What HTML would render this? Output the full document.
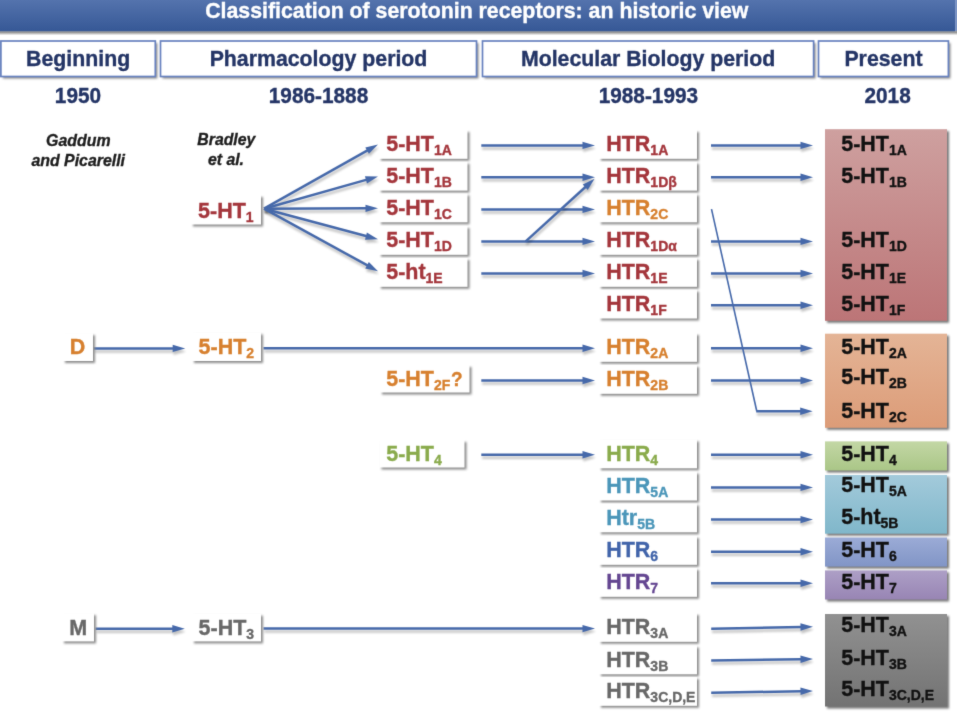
<!DOCTYPE html>
<html><head><meta charset="utf-8"><title>Classification of serotonin receptors</title>
<style>
html,body{margin:0;padding:0;background:#fff;overflow:hidden}
svg{display:block}
text{font-family:"Liberation Sans",sans-serif;font-weight:bold;stroke-width:0.35px}
</style></head><body>
<svg width="957" height="712" viewBox="0 0 957 712">
<defs>
<linearGradient id="hg" x1="0" y1="0" x2="0" y2="1"><stop offset="0" stop-color="#5473ad"/><stop offset="1" stop-color="#365896"/></linearGradient>
<linearGradient id="gpink" x1="0" y1="0" x2="0" y2="1"><stop offset="0" stop-color="#cea09f"/><stop offset="1" stop-color="#bc7577"/></linearGradient>
<linearGradient id="gorg" x1="0" y1="0" x2="0" y2="1"><stop offset="0" stop-color="#e4b496"/><stop offset="1" stop-color="#dc9c78"/></linearGradient>
<linearGradient id="ggrn" x1="0" y1="0" x2="0" y2="1"><stop offset="0" stop-color="#c3d7a5"/><stop offset="1" stop-color="#aac687"/></linearGradient>
<linearGradient id="gcyn" x1="0" y1="0" x2="0" y2="1"><stop offset="0" stop-color="#a3cadb"/><stop offset="1" stop-color="#80b7ca"/></linearGradient>
<linearGradient id="gper" x1="0" y1="0" x2="0" y2="1"><stop offset="0" stop-color="#9babd6"/><stop offset="1" stop-color="#8195c6"/></linearGradient>
<linearGradient id="gpur" x1="0" y1="0" x2="0" y2="1"><stop offset="0" stop-color="#ad9fc6"/><stop offset="1" stop-color="#9885b4"/></linearGradient>
<linearGradient id="ggry" x1="0" y1="0" x2="0" y2="1"><stop offset="0" stop-color="#919191"/><stop offset="1" stop-color="#737373"/></linearGradient>
<linearGradient id="hsh" x1="0" y1="0" x2="0" y2="1"><stop offset="0" stop-color="#6e6e6e"/><stop offset="1" stop-color="#ffffff"/></linearGradient>
<filter id="sb" x="-20%" y="-20%" width="140%" height="140%"><feGaussianBlur stdDeviation="0.8"/></filter>
<filter id="gb" x="0" y="0" width="957" height="712" filterUnits="userSpaceOnUse" color-interpolation-filters="sRGB"><feConvolveMatrix order="3" kernelMatrix="0.01134 0.08382 0.01134 0.08382 0.61935 0.08382 0.01134 0.08382 0.01134" edgeMode="duplicate" preserveAlpha="true"/></filter>
<filter id="lb" x="-20%" y="-50%" width="140%" height="200%"><feGaussianBlur stdDeviation="1"/></filter>
</defs>
<g filter="url(#gb)">
<rect x="0" y="0" width="957" height="712" fill="#fff"/>

<rect x="0" y="31.3" width="957" height="4" fill="url(#hsh)"/>
<rect x="0" y="0" width="955" height="31.3" fill="url(#hg)"/>
<rect x="955" y="0" width="2" height="31" fill="#7d95c5"/>
<text transform="translate(476.8 18.3) scale(1 1.0)" fill="#fff" stroke="#fff" text-anchor="middle" style="font-size:21.3px;">Classification of serotonin receptors: an historic view</text>
<rect x="2.9" y="43" width="154.4" height="35.5" fill="#8a8a8a" filter="url(#sb)"/>
<rect x="0.9" y="41" width="154.4" height="35.5" fill="#fff" stroke="#6882bf" stroke-width="1.7"/>
<text transform="translate(78.10000000000001 66) scale(1 1.04)" fill="#243566" stroke="#243566" text-anchor="middle" style="font-size:21.3px;">Beginning</text>
<rect x="162.5" y="43" width="316.0" height="35.5" fill="#8a8a8a" filter="url(#sb)"/>
<rect x="160.5" y="41" width="316.0" height="35.5" fill="#fff" stroke="#6882bf" stroke-width="1.7"/>
<text transform="translate(318.5 66) scale(1 1.04)" fill="#243566" stroke="#243566" text-anchor="middle" style="font-size:21.3px;">Pharmacology period</text>
<rect x="484.5" y="43" width="331.1" height="35.5" fill="#8a8a8a" filter="url(#sb)"/>
<rect x="482.5" y="41" width="331.1" height="35.5" fill="#fff" stroke="#6882bf" stroke-width="1.7"/>
<text transform="translate(648.05 66) scale(1 1.04)" fill="#243566" stroke="#243566" text-anchor="middle" style="font-size:21.3px;">Molecular Biology period</text>
<rect x="820.5" y="43" width="129.89999999999998" height="35.5" fill="#8a8a8a" filter="url(#sb)"/>
<rect x="818.5" y="41" width="129.89999999999998" height="35.5" fill="#fff" stroke="#6882bf" stroke-width="1.7"/>
<text transform="translate(883.45 66) scale(1 1.04)" fill="#243566" stroke="#243566" text-anchor="middle" style="font-size:21.3px;">Present</text>
<text transform="translate(78 103) scale(1 1.04)" fill="#243566" stroke="#243566" text-anchor="middle" style="font-size:20.8px;">1950</text>
<text transform="translate(318.5 103) scale(1 1.04)" fill="#243566" stroke="#243566" text-anchor="middle" style="font-size:20.8px;">1986-1888</text>
<text transform="translate(648.4 103) scale(1 1.04)" fill="#243566" stroke="#243566" text-anchor="middle" style="font-size:20.8px;">1988-1993</text>
<text transform="translate(887.6 103) scale(1 1.04)" fill="#243566" stroke="#243566" text-anchor="middle" style="font-size:20.8px;">2018</text>
<text transform="translate(78.3 145.5) scale(1 1.0)" fill="#1e1e1e" stroke="#1e1e1e" text-anchor="middle" style="font-size:15.9px;font-style:italic">Gaddum</text>
<text transform="translate(78.2 166) scale(1 1.0)" fill="#1e1e1e" stroke="#1e1e1e" text-anchor="middle" style="font-size:15.9px;font-style:italic">and Picarelli</text>
<text transform="translate(226.3 145.1) scale(1 1.0)" fill="#1e1e1e" stroke="#1e1e1e" text-anchor="middle" style="font-size:15.8px;font-style:italic">Bradley</text>
<text transform="translate(226 164.9) scale(1 1.0)" fill="#1e1e1e" stroke="#1e1e1e" text-anchor="middle" style="font-size:15.8px;font-style:italic">et al.</text>
<g transform="translate(0.8,3)" opacity="0.23" filter="url(#lb)"><line x1="264" y1="208.7" x2="367.98" y2="150.14" stroke="#000" stroke-width="2.5"/><polygon points="378.00,144.50 368.92,153.86 365.29,147.41" fill="#000"/></g>
<line x1="264" y1="208.7" x2="367.98" y2="150.14" stroke="#4669aa" stroke-width="2.5"/>
<polygon points="378.00,144.50 368.92,153.86 365.29,147.41" fill="#4669aa"/>
<g transform="translate(0.8,3)" opacity="0.23" filter="url(#lb)"><line x1="264" y1="208.7" x2="366.93" y2="179.63" stroke="#000" stroke-width="2.5"/><polygon points="378.00,176.50 366.98,183.46 364.96,176.34" fill="#000"/></g>
<line x1="264" y1="208.7" x2="366.93" y2="179.63" stroke="#4669aa" stroke-width="2.5"/>
<polygon points="378.00,176.50 366.98,183.46 364.96,176.34" fill="#4669aa"/>
<g transform="translate(0.8,3)" opacity="0.23" filter="url(#lb)"><line x1="264" y1="208.7" x2="366.50" y2="208.34" stroke="#000" stroke-width="2.5"/><polygon points="378.00,208.30 365.51,212.04 365.49,204.64" fill="#000"/></g>
<line x1="264" y1="208.7" x2="366.50" y2="208.34" stroke="#4669aa" stroke-width="2.5"/>
<polygon points="378.00,208.30 365.51,212.04 365.49,204.64" fill="#4669aa"/>
<g transform="translate(0.8,3)" opacity="0.23" filter="url(#lb)"><line x1="264" y1="208.7" x2="366.89" y2="236.32" stroke="#000" stroke-width="2.5"/><polygon points="378.00,239.30 364.97,239.63 366.89,232.49" fill="#000"/></g>
<line x1="264" y1="208.7" x2="366.89" y2="236.32" stroke="#4669aa" stroke-width="2.5"/>
<polygon points="378.00,239.30 364.97,239.63 366.89,232.49" fill="#4669aa"/>
<g transform="translate(0.8,3)" opacity="0.23" filter="url(#lb)"><line x1="264" y1="208.7" x2="367.92" y2="265.67" stroke="#000" stroke-width="2.5"/><polygon points="378.00,271.20 365.26,268.44 368.82,261.95" fill="#000"/></g>
<line x1="264" y1="208.7" x2="367.92" y2="265.67" stroke="#4669aa" stroke-width="2.5"/>
<polygon points="378.00,271.20 365.26,268.44 368.82,261.95" fill="#4669aa"/>
<g transform="translate(0.8,3)" opacity="0.23" filter="url(#lb)"><line x1="481.3" y1="145.4" x2="583.50" y2="145.40" stroke="#000" stroke-width="2.5"/><polygon points="595.00,145.40 582.50,149.10 582.50,141.70" fill="#000"/></g>
<line x1="481.3" y1="145.4" x2="583.50" y2="145.40" stroke="#4669aa" stroke-width="2.5"/>
<polygon points="595.00,145.40 582.50,149.10 582.50,141.70" fill="#4669aa"/>
<g transform="translate(0.8,3)" opacity="0.23" filter="url(#lb)"><line x1="481.3" y1="177.3" x2="583.50" y2="177.30" stroke="#000" stroke-width="2.5"/><polygon points="595.00,177.30 582.50,181.00 582.50,173.60" fill="#000"/></g>
<line x1="481.3" y1="177.3" x2="583.50" y2="177.30" stroke="#4669aa" stroke-width="2.5"/>
<polygon points="595.00,177.30 582.50,181.00 582.50,173.60" fill="#4669aa"/>
<g transform="translate(0.8,3)" opacity="0.23" filter="url(#lb)"><line x1="481.3" y1="209.4" x2="583.50" y2="209.40" stroke="#000" stroke-width="2.5"/><polygon points="595.00,209.40 582.50,213.10 582.50,205.70" fill="#000"/></g>
<line x1="481.3" y1="209.4" x2="583.50" y2="209.40" stroke="#4669aa" stroke-width="2.5"/>
<polygon points="595.00,209.40 582.50,213.10 582.50,205.70" fill="#4669aa"/>
<g transform="translate(0.8,3)" opacity="0.23" filter="url(#lb)"><line x1="481.3" y1="241.4" x2="583.50" y2="241.40" stroke="#000" stroke-width="2.5"/><polygon points="595.00,241.40 582.50,245.10 582.50,237.70" fill="#000"/></g>
<line x1="481.3" y1="241.4" x2="583.50" y2="241.40" stroke="#4669aa" stroke-width="2.5"/>
<polygon points="595.00,241.40 582.50,245.10 582.50,237.70" fill="#4669aa"/>
<g transform="translate(0.8,3)" opacity="0.23" filter="url(#lb)"><line x1="481.3" y1="273.5" x2="583.50" y2="273.50" stroke="#000" stroke-width="2.5"/><polygon points="595.00,273.50 582.50,277.20 582.50,269.80" fill="#000"/></g>
<line x1="481.3" y1="273.5" x2="583.50" y2="273.50" stroke="#4669aa" stroke-width="2.5"/>
<polygon points="595.00,273.50 582.50,277.20 582.50,269.80" fill="#4669aa"/>
<g transform="translate(0.8,3)" opacity="0.23" filter="url(#lb)"><line x1="525.7" y1="241.4" x2="585.99" y2="186.54" stroke="#000" stroke-width="2.5"/><polygon points="594.50,178.80 587.74,189.95 582.76,184.48" fill="#000"/></g>
<line x1="525.7" y1="241.4" x2="585.99" y2="186.54" stroke="#4669aa" stroke-width="2.5"/>
<polygon points="594.50,178.80 587.74,189.95 582.76,184.48" fill="#4669aa"/>
<g transform="translate(0.8,3)" opacity="0.23" filter="url(#lb)"><line x1="481.3" y1="380.5" x2="583.50" y2="380.50" stroke="#000" stroke-width="2.5"/><polygon points="595.00,380.50 582.50,384.20 582.50,376.80" fill="#000"/></g>
<line x1="481.3" y1="380.5" x2="583.50" y2="380.50" stroke="#4669aa" stroke-width="2.5"/>
<polygon points="595.00,380.50 582.50,384.20 582.50,376.80" fill="#4669aa"/>
<g transform="translate(0.8,3)" opacity="0.23" filter="url(#lb)"><line x1="481.3" y1="454.8" x2="583.50" y2="454.80" stroke="#000" stroke-width="2.5"/><polygon points="595.00,454.80 582.50,458.50 582.50,451.10" fill="#000"/></g>
<line x1="481.3" y1="454.8" x2="583.50" y2="454.80" stroke="#4669aa" stroke-width="2.5"/>
<polygon points="595.00,454.80 582.50,458.50 582.50,451.10" fill="#4669aa"/>
<g transform="translate(0.8,3)" opacity="0.23" filter="url(#lb)"><line x1="93.5" y1="348.4" x2="173.70" y2="348.40" stroke="#000" stroke-width="2.5"/><polygon points="185.20,348.40 172.70,352.10 172.70,344.70" fill="#000"/></g>
<line x1="93.5" y1="348.4" x2="173.70" y2="348.40" stroke="#4669aa" stroke-width="2.5"/>
<polygon points="185.20,348.40 172.70,352.10 172.70,344.70" fill="#4669aa"/>
<g transform="translate(0.8,3)" opacity="0.23" filter="url(#lb)"><line x1="263.5" y1="348.3" x2="583.50" y2="348.30" stroke="#000" stroke-width="2.5"/><polygon points="595.00,348.30 582.50,352.00 582.50,344.60" fill="#000"/></g>
<line x1="263.5" y1="348.3" x2="583.50" y2="348.30" stroke="#4669aa" stroke-width="2.5"/>
<polygon points="595.00,348.30 582.50,352.00 582.50,344.60" fill="#4669aa"/>
<g transform="translate(0.8,3)" opacity="0.23" filter="url(#lb)"><line x1="95.5" y1="628.7" x2="173.30" y2="628.70" stroke="#000" stroke-width="2.5"/><polygon points="184.80,628.70 172.30,632.40 172.30,625.00" fill="#000"/></g>
<line x1="95.5" y1="628.7" x2="173.30" y2="628.70" stroke="#4669aa" stroke-width="2.5"/>
<polygon points="184.80,628.70 172.30,632.40 172.30,625.00" fill="#4669aa"/>
<g transform="translate(0.8,3)" opacity="0.23" filter="url(#lb)"><line x1="263.5" y1="628.6" x2="583.50" y2="628.60" stroke="#000" stroke-width="2.5"/><polygon points="595.00,628.60 582.50,632.30 582.50,624.90" fill="#000"/></g>
<line x1="263.5" y1="628.6" x2="583.50" y2="628.60" stroke="#4669aa" stroke-width="2.5"/>
<polygon points="595.00,628.60 582.50,632.30 582.50,624.90" fill="#4669aa"/>
<g transform="translate(0.8,3)" opacity="0.23" filter="url(#lb)"><line x1="711" y1="145.4" x2="801.50" y2="145.40" stroke="#000" stroke-width="2.5"/><polygon points="813.00,145.40 800.50,149.10 800.50,141.70" fill="#000"/></g>
<line x1="711" y1="145.4" x2="801.50" y2="145.40" stroke="#4669aa" stroke-width="2.5"/>
<polygon points="813.00,145.40 800.50,149.10 800.50,141.70" fill="#4669aa"/>
<g transform="translate(0.8,3)" opacity="0.23" filter="url(#lb)"><line x1="711" y1="177.3" x2="801.50" y2="177.30" stroke="#000" stroke-width="2.5"/><polygon points="813.00,177.30 800.50,181.00 800.50,173.60" fill="#000"/></g>
<line x1="711" y1="177.3" x2="801.50" y2="177.30" stroke="#4669aa" stroke-width="2.5"/>
<polygon points="813.00,177.30 800.50,181.00 800.50,173.60" fill="#4669aa"/>
<g transform="translate(0.8,3)" opacity="0.23" filter="url(#lb)"><line x1="711" y1="241.4" x2="801.50" y2="241.40" stroke="#000" stroke-width="2.5"/><polygon points="813.00,241.40 800.50,245.10 800.50,237.70" fill="#000"/></g>
<line x1="711" y1="241.4" x2="801.50" y2="241.40" stroke="#4669aa" stroke-width="2.5"/>
<polygon points="813.00,241.40 800.50,245.10 800.50,237.70" fill="#4669aa"/>
<g transform="translate(0.8,3)" opacity="0.23" filter="url(#lb)"><line x1="711" y1="273.5" x2="801.50" y2="273.50" stroke="#000" stroke-width="2.5"/><polygon points="813.00,273.50 800.50,277.20 800.50,269.80" fill="#000"/></g>
<line x1="711" y1="273.5" x2="801.50" y2="273.50" stroke="#4669aa" stroke-width="2.5"/>
<polygon points="813.00,273.50 800.50,277.20 800.50,269.80" fill="#4669aa"/>
<g transform="translate(0.8,3)" opacity="0.23" filter="url(#lb)"><line x1="711" y1="305.3" x2="801.50" y2="305.30" stroke="#000" stroke-width="2.5"/><polygon points="813.00,305.30 800.50,309.00 800.50,301.60" fill="#000"/></g>
<line x1="711" y1="305.3" x2="801.50" y2="305.30" stroke="#4669aa" stroke-width="2.5"/>
<polygon points="813.00,305.30 800.50,309.00 800.50,301.60" fill="#4669aa"/>
<g transform="translate(0.8,3)" opacity="0.23" filter="url(#lb)"><line x1="711" y1="348.3" x2="801.50" y2="348.30" stroke="#000" stroke-width="2.5"/><polygon points="813.00,348.30 800.50,352.00 800.50,344.60" fill="#000"/></g>
<line x1="711" y1="348.3" x2="801.50" y2="348.30" stroke="#4669aa" stroke-width="2.5"/>
<polygon points="813.00,348.30 800.50,352.00 800.50,344.60" fill="#4669aa"/>
<g transform="translate(0.8,3)" opacity="0.23" filter="url(#lb)"><line x1="711" y1="380.5" x2="801.50" y2="380.50" stroke="#000" stroke-width="2.5"/><polygon points="813.00,380.50 800.50,384.20 800.50,376.80" fill="#000"/></g>
<line x1="711" y1="380.5" x2="801.50" y2="380.50" stroke="#4669aa" stroke-width="2.5"/>
<polygon points="813.00,380.50 800.50,384.20 800.50,376.80" fill="#4669aa"/>
<g transform="translate(0.8,3)" opacity="0.23" filter="url(#lb)"><line x1="711" y1="454.8" x2="801.50" y2="454.80" stroke="#000" stroke-width="2.5"/><polygon points="813.00,454.80 800.50,458.50 800.50,451.10" fill="#000"/></g>
<line x1="711" y1="454.8" x2="801.50" y2="454.80" stroke="#4669aa" stroke-width="2.5"/>
<polygon points="813.00,454.80 800.50,458.50 800.50,451.10" fill="#4669aa"/>
<g transform="translate(0.8,3)" opacity="0.23" filter="url(#lb)"><line x1="711" y1="487.4" x2="801.50" y2="487.40" stroke="#000" stroke-width="2.5"/><polygon points="813.00,487.40 800.50,491.10 800.50,483.70" fill="#000"/></g>
<line x1="711" y1="487.4" x2="801.50" y2="487.40" stroke="#4669aa" stroke-width="2.5"/>
<polygon points="813.00,487.40 800.50,491.10 800.50,483.70" fill="#4669aa"/>
<g transform="translate(0.8,3)" opacity="0.23" filter="url(#lb)"><line x1="711" y1="519.6" x2="801.50" y2="519.60" stroke="#000" stroke-width="2.5"/><polygon points="813.00,519.60 800.50,523.30 800.50,515.90" fill="#000"/></g>
<line x1="711" y1="519.6" x2="801.50" y2="519.60" stroke="#4669aa" stroke-width="2.5"/>
<polygon points="813.00,519.60 800.50,523.30 800.50,515.90" fill="#4669aa"/>
<g transform="translate(0.8,3)" opacity="0.23" filter="url(#lb)"><line x1="711" y1="551.7" x2="801.50" y2="551.70" stroke="#000" stroke-width="2.5"/><polygon points="813.00,551.70 800.50,555.40 800.50,548.00" fill="#000"/></g>
<line x1="711" y1="551.7" x2="801.50" y2="551.70" stroke="#4669aa" stroke-width="2.5"/>
<polygon points="813.00,551.70 800.50,555.40 800.50,548.00" fill="#4669aa"/>
<g transform="translate(0.8,3)" opacity="0.23" filter="url(#lb)"><line x1="711" y1="583.3" x2="801.50" y2="583.30" stroke="#000" stroke-width="2.5"/><polygon points="813.00,583.30 800.50,587.00 800.50,579.60" fill="#000"/></g>
<line x1="711" y1="583.3" x2="801.50" y2="583.30" stroke="#4669aa" stroke-width="2.5"/>
<polygon points="813.00,583.30 800.50,587.00 800.50,579.60" fill="#4669aa"/>
<g transform="translate(0.8,3)" opacity="0.23" filter="url(#lb)"><line x1="711.2" y1="628.7" x2="801.50" y2="627.01" stroke="#000" stroke-width="2.5"/><polygon points="813.00,626.80 800.57,630.73 800.43,623.33" fill="#000"/></g>
<line x1="711.2" y1="628.7" x2="801.50" y2="627.01" stroke="#4669aa" stroke-width="2.5"/>
<polygon points="813.00,626.80 800.57,630.73 800.43,623.33" fill="#4669aa"/>
<g transform="translate(0.8,3)" opacity="0.23" filter="url(#lb)"><line x1="711.2" y1="660.5" x2="801.50" y2="659.26" stroke="#000" stroke-width="2.5"/><polygon points="813.00,659.10 800.55,662.97 800.45,655.57" fill="#000"/></g>
<line x1="711.2" y1="660.5" x2="801.50" y2="659.26" stroke="#4669aa" stroke-width="2.5"/>
<polygon points="813.00,659.10 800.55,662.97 800.45,655.57" fill="#4669aa"/>
<g transform="translate(0.8,3)" opacity="0.23" filter="url(#lb)"><line x1="711.2" y1="692.8" x2="801.50" y2="691.20" stroke="#000" stroke-width="2.5"/><polygon points="813.00,691.00 800.57,694.92 800.44,687.52" fill="#000"/></g>
<line x1="711.2" y1="692.8" x2="801.50" y2="691.20" stroke="#4669aa" stroke-width="2.5"/>
<polygon points="813.00,691.00 800.57,694.92 800.44,687.52" fill="#4669aa"/>
<line x1="711.5" y1="209.1" x2="756.8" y2="411.2" stroke="#4669aa" stroke-width="1.6"/>
<g transform="translate(0.8,3)" opacity="0.23" filter="url(#lb)"><line x1="756.2" y1="411.2" x2="801.20" y2="411.20" stroke="#000" stroke-width="2.5"/><polygon points="812.70,411.20 800.20,414.90 800.20,407.50" fill="#000"/></g>
<line x1="756.2" y1="411.2" x2="801.20" y2="411.20" stroke="#4669aa" stroke-width="2.5"/>
<polygon points="812.70,411.20 800.20,414.90 800.20,407.50" fill="#4669aa"/>
<rect x="65" y="335.2" width="30" height="27.80000000000001" fill="#8c8c8c" filter="url(#sb)"/>
<rect x="63" y="333.2" width="30" height="27.80000000000001" fill="#fff"/>
<text transform="translate(69.7 354) scale(1 1.04)" fill="#d7802f" stroke="#d7802f" style="font-size:21.5px">D</text>
<rect x="64" y="615.2" width="32" height="28.199999999999932" fill="#8c8c8c" filter="url(#sb)"/>
<rect x="62" y="613.2" width="32" height="28.199999999999932" fill="#fff"/>
<text transform="translate(69.2 634.5) scale(1 1.04)" fill="#686868" stroke="#686868" style="font-size:21.5px">M</text>
<rect x="193" y="197" width="70" height="29.5" fill="#8c8c8c" filter="url(#sb)"/>
<rect x="191" y="195" width="70" height="29.5" fill="#fff"/>
<text transform="translate(198.1 217.5) scale(1 1.04)" fill="#a4363c" stroke="#a4363c" style="font-size:21.5px">5-HT<tspan dy="3.9" style="font-size:14px">1</tspan></text>
<rect x="194" y="334.4" width="69" height="28.600000000000023" fill="#8c8c8c" filter="url(#sb)"/>
<rect x="192" y="332.4" width="69" height="28.600000000000023" fill="#fff"/>
<text transform="translate(198.6 354.1) scale(1 1.04)" fill="#d7802f" stroke="#d7802f" style="font-size:21.5px">5-HT<tspan dy="3.9" style="font-size:14px">2</tspan></text>
<rect x="194" y="615.7" width="69" height="27.699999999999932" fill="#8c8c8c" filter="url(#sb)"/>
<rect x="192" y="613.7" width="69" height="27.699999999999932" fill="#fff"/>
<text transform="translate(198.6 634.5) scale(1 1.04)" fill="#686868" stroke="#686868" style="font-size:21.5px">5-HT<tspan dy="3.9" style="font-size:14px">3</tspan></text>
<rect x="381" y="132" width="88.5" height="28.80000000000001" fill="#8c8c8c" filter="url(#sb)"/>
<rect x="379" y="130" width="88.5" height="28.80000000000001" fill="#fff"/>
<text transform="translate(386.2 151) scale(1 1.04)" fill="#a4363c" stroke="#a4363c" style="font-size:21.5px">5-HT<tspan dy="3.9" style="font-size:14px">1A</tspan></text>
<rect x="381" y="163.8" width="88.5" height="28.80000000000001" fill="#8c8c8c" filter="url(#sb)"/>
<rect x="379" y="161.8" width="88.5" height="28.80000000000001" fill="#fff"/>
<text transform="translate(386.2 182.8) scale(1 1.04)" fill="#a4363c" stroke="#a4363c" style="font-size:21.5px">5-HT<tspan dy="3.9" style="font-size:14px">1B</tspan></text>
<rect x="381" y="195.5" width="88.5" height="28.80000000000001" fill="#8c8c8c" filter="url(#sb)"/>
<rect x="379" y="193.5" width="88.5" height="28.80000000000001" fill="#fff"/>
<text transform="translate(386.2 214.5) scale(1 1.04)" fill="#a4363c" stroke="#a4363c" style="font-size:21.5px">5-HT<tspan dy="3.9" style="font-size:14px">1C</tspan></text>
<rect x="381" y="228" width="88.5" height="28.80000000000001" fill="#8c8c8c" filter="url(#sb)"/>
<rect x="379" y="226" width="88.5" height="28.80000000000001" fill="#fff"/>
<text transform="translate(386.2 247) scale(1 1.04)" fill="#a4363c" stroke="#a4363c" style="font-size:21.5px">5-HT<tspan dy="3.9" style="font-size:14px">1D</tspan></text>
<rect x="381" y="260" width="88.5" height="28.80000000000001" fill="#8c8c8c" filter="url(#sb)"/>
<rect x="379" y="258" width="88.5" height="28.80000000000001" fill="#fff"/>
<text transform="translate(386.2 279) scale(1 1.04)" fill="#a4363c" stroke="#a4363c" style="font-size:21.5px">5-ht<tspan dy="3.9" style="font-size:14px">1E</tspan></text>
<rect x="382" y="367" width="89.5" height="27.5" fill="#8c8c8c" filter="url(#sb)"/>
<rect x="380" y="365" width="89.5" height="27.5" fill="#fff"/>
<text transform="translate(386.2 385.7) scale(1 1.04)" fill="#d7802f" stroke="#d7802f" style="font-size:21.5px">5-HT<tspan dy="3.9" style="font-size:14px">2F</tspan><tspan dx="0.8" dy="-3.9" style="font-size:19px">?</tspan></text>
<rect x="381.5" y="442" width="85.0" height="27.5" fill="#8c8c8c" filter="url(#sb)"/>
<rect x="379.5" y="440" width="85.0" height="27.5" fill="#fff"/>
<text transform="translate(386.2 460.7) scale(1 1.04)" fill="#8aab4c" stroke="#8aab4c" style="font-size:21.5px">5-HT<tspan dy="3.9" style="font-size:14px">4</tspan></text>
<rect x="601" y="132" width="98" height="28.80000000000001" fill="#8c8c8c" filter="url(#sb)"/>
<rect x="599" y="130" width="98" height="28.80000000000001" fill="#fff"/>
<text transform="translate(606.2 151) scale(1 1.04)" fill="#a4363c" stroke="#a4363c" style="font-size:21.5px">HTR<tspan dy="3.9" style="font-size:14px">1A</tspan></text>
<rect x="601" y="163.8" width="98" height="28.80000000000001" fill="#8c8c8c" filter="url(#sb)"/>
<rect x="599" y="161.8" width="98" height="28.80000000000001" fill="#fff"/>
<text transform="translate(606.2 182.8) scale(1 1.04)" fill="#a4363c" stroke="#a4363c" style="font-size:21.5px">HTR<tspan dy="3.9" style="font-size:14px">1Dβ</tspan></text>
<rect x="601" y="195.5" width="98" height="28.80000000000001" fill="#8c8c8c" filter="url(#sb)"/>
<rect x="599" y="193.5" width="98" height="28.80000000000001" fill="#fff"/>
<text transform="translate(606.2 214.5) scale(1 1.04)" fill="#d7802f" stroke="#d7802f" style="font-size:21.5px">HTR<tspan dy="3.9" style="font-size:14px">2C</tspan></text>
<rect x="601" y="228" width="98" height="28.80000000000001" fill="#8c8c8c" filter="url(#sb)"/>
<rect x="599" y="226" width="98" height="28.80000000000001" fill="#fff"/>
<text transform="translate(606.2 247) scale(1 1.04)" fill="#a4363c" stroke="#a4363c" style="font-size:21.5px">HTR<tspan dy="3.9" style="font-size:14px">1Dα</tspan></text>
<rect x="601" y="260" width="98" height="28.80000000000001" fill="#8c8c8c" filter="url(#sb)"/>
<rect x="599" y="258" width="98" height="28.80000000000001" fill="#fff"/>
<text transform="translate(606.2 279) scale(1 1.04)" fill="#a4363c" stroke="#a4363c" style="font-size:21.5px">HTR<tspan dy="3.9" style="font-size:14px">1E</tspan></text>
<rect x="601" y="291.7" width="98" height="28.80000000000001" fill="#8c8c8c" filter="url(#sb)"/>
<rect x="599" y="289.7" width="98" height="28.80000000000001" fill="#fff"/>
<text transform="translate(606.2 310.7) scale(1 1.04)" fill="#a4363c" stroke="#a4363c" style="font-size:21.5px">HTR<tspan dy="3.9" style="font-size:14px">1F</tspan></text>
<rect x="601" y="335" width="98" height="28.80000000000001" fill="#8c8c8c" filter="url(#sb)"/>
<rect x="599" y="333" width="98" height="28.80000000000001" fill="#fff"/>
<text transform="translate(606.2 354) scale(1 1.04)" fill="#d7802f" stroke="#d7802f" style="font-size:21.5px">HTR<tspan dy="3.9" style="font-size:14px">2A</tspan></text>
<rect x="601" y="367" width="98" height="28.80000000000001" fill="#8c8c8c" filter="url(#sb)"/>
<rect x="599" y="365" width="98" height="28.80000000000001" fill="#fff"/>
<text transform="translate(606.2 386) scale(1 1.04)" fill="#d7802f" stroke="#d7802f" style="font-size:21.5px">HTR<tspan dy="3.9" style="font-size:14px">2B</tspan></text>
<rect x="601" y="441.5" width="98" height="28.80000000000001" fill="#8c8c8c" filter="url(#sb)"/>
<rect x="599" y="439.5" width="98" height="28.80000000000001" fill="#fff"/>
<text transform="translate(606.2 460.5) scale(1 1.04)" fill="#8aab4c" stroke="#8aab4c" style="font-size:21.5px">HTR<tspan dy="3.9" style="font-size:14px">4</tspan></text>
<rect x="601" y="473.7" width="98" height="28.80000000000001" fill="#8c8c8c" filter="url(#sb)"/>
<rect x="599" y="471.7" width="98" height="28.80000000000001" fill="#fff"/>
<text transform="translate(606.2 492.7) scale(1 1.04)" fill="#4b96b9" stroke="#4b96b9" style="font-size:21.5px">HTR<tspan dy="3.9" style="font-size:14px">5A</tspan></text>
<rect x="601" y="505.5" width="98" height="28.799999999999955" fill="#8c8c8c" filter="url(#sb)"/>
<rect x="599" y="503.5" width="98" height="28.799999999999955" fill="#fff"/>
<text transform="translate(606.2 524.5) scale(1 1.04)" fill="#4b96b9" stroke="#4b96b9" style="font-size:21.5px">Htr<tspan dy="3.9" style="font-size:14px">5B</tspan></text>
<rect x="601" y="538" width="98" height="28.799999999999955" fill="#8c8c8c" filter="url(#sb)"/>
<rect x="599" y="536" width="98" height="28.799999999999955" fill="#fff"/>
<text transform="translate(606.2 557) scale(1 1.04)" fill="#4164aa" stroke="#4164aa" style="font-size:21.5px">HTR<tspan dy="3.9" style="font-size:14px">6</tspan></text>
<rect x="601" y="570" width="98" height="28.799999999999955" fill="#8c8c8c" filter="url(#sb)"/>
<rect x="599" y="568" width="98" height="28.799999999999955" fill="#fff"/>
<text transform="translate(606.2 589) scale(1 1.04)" fill="#644691" stroke="#644691" style="font-size:21.5px">HTR<tspan dy="3.9" style="font-size:14px">7</tspan></text>
<rect x="601" y="615" width="98" height="28.799999999999955" fill="#8c8c8c" filter="url(#sb)"/>
<rect x="599" y="613" width="98" height="28.799999999999955" fill="#fff"/>
<text transform="translate(606.2 634) scale(1 1.04)" fill="#686868" stroke="#686868" style="font-size:21.5px">HTR<tspan dy="3.9" style="font-size:14px">3A</tspan></text>
<rect x="601" y="647.5" width="98" height="28.799999999999955" fill="#8c8c8c" filter="url(#sb)"/>
<rect x="599" y="645.5" width="98" height="28.799999999999955" fill="#fff"/>
<text transform="translate(606.2 666.5) scale(1 1.04)" fill="#686868" stroke="#686868" style="font-size:21.5px">HTR<tspan dy="3.9" style="font-size:14px">3B</tspan></text>
<rect x="601" y="679" width="98" height="28.799999999999955" fill="#8c8c8c" filter="url(#sb)"/>
<rect x="599" y="677" width="98" height="28.799999999999955" fill="#fff"/>
<text transform="translate(606.2 698) scale(1 1.04)" fill="#686868" stroke="#686868" style="font-size:21.5px">HTR<tspan dy="3.9" style="font-size:14px">3C,D,E</tspan></text>
<rect x="827" y="131.2" width="122" height="191.60000000000002" fill="#777" filter="url(#sb)"/>
<rect x="825" y="129.2" width="122" height="191.60000000000002" fill="url(#gpink)"/>
<rect x="827" y="335.7" width="122" height="94.10000000000002" fill="#777" filter="url(#sb)"/>
<rect x="825" y="333.7" width="122" height="94.10000000000002" fill="url(#gorg)"/>
<rect x="827" y="443.4" width="122" height="29.100000000000023" fill="#777" filter="url(#sb)"/>
<rect x="825" y="441.4" width="122" height="29.100000000000023" fill="url(#ggrn)"/>
<rect x="827" y="477" width="122" height="58.700000000000045" fill="#777" filter="url(#sb)"/>
<rect x="825" y="475" width="122" height="58.700000000000045" fill="url(#gcyn)"/>
<rect x="827" y="539.5" width="122" height="29.100000000000023" fill="#777" filter="url(#sb)"/>
<rect x="825" y="537.5" width="122" height="29.100000000000023" fill="url(#gper)"/>
<rect x="827" y="572.4" width="122" height="29.100000000000023" fill="#777" filter="url(#sb)"/>
<rect x="825" y="570.4" width="122" height="29.100000000000023" fill="url(#gpur)"/>
<rect x="827" y="616" width="122" height="92.5" fill="#777" filter="url(#sb)"/>
<rect x="825" y="614" width="122" height="92.5" fill="url(#ggry)"/>
<text transform="translate(841.2 151) scale(1 1.04)" fill="#111" stroke="#111" style="font-size:21.5px">5-HT<tspan dy="3.9" style="font-size:14px">1A</tspan></text>
<text transform="translate(841.2 182.8) scale(1 1.04)" fill="#111" stroke="#111" style="font-size:21.5px">5-HT<tspan dy="3.9" style="font-size:14px">1B</tspan></text>
<text transform="translate(841.2 247) scale(1 1.04)" fill="#111" stroke="#111" style="font-size:21.5px">5-HT<tspan dy="3.9" style="font-size:14px">1D</tspan></text>
<text transform="translate(841.2 279) scale(1 1.04)" fill="#111" stroke="#111" style="font-size:21.5px">5-HT<tspan dy="3.9" style="font-size:14px">1E</tspan></text>
<text transform="translate(841.2 310.6) scale(1 1.04)" fill="#111" stroke="#111" style="font-size:21.5px">5-HT<tspan dy="3.9" style="font-size:14px">1F</tspan></text>
<text transform="translate(841.2 353.8) scale(1 1.04)" fill="#111" stroke="#111" style="font-size:21.5px">5-HT<tspan dy="3.9" style="font-size:14px">2A</tspan></text>
<text transform="translate(841.2 384.3) scale(1 1.04)" fill="#111" stroke="#111" style="font-size:21.5px">5-HT<tspan dy="3.9" style="font-size:14px">2B</tspan></text>
<text transform="translate(841.2 418) scale(1 1.04)" fill="#111" stroke="#111" style="font-size:21.5px">5-HT<tspan dy="3.9" style="font-size:14px">2C</tspan></text>
<text transform="translate(841.2 460.8) scale(1 1.04)" fill="#111" stroke="#111" style="font-size:21.5px">5-HT<tspan dy="3.9" style="font-size:14px">4</tspan></text>
<text transform="translate(841.2 492.4) scale(1 1.04)" fill="#111" stroke="#111" style="font-size:21.5px">5-HT<tspan dy="3.9" style="font-size:14px">5A</tspan></text>
<text transform="translate(841.2 524.4) scale(1 1.04)" fill="#111" stroke="#111" style="font-size:21.5px">5-ht<tspan dy="3.9" style="font-size:14px">5B</tspan></text>
<text transform="translate(841.2 556.7) scale(1 1.04)" fill="#111" stroke="#111" style="font-size:21.5px">5-HT<tspan dy="3.9" style="font-size:14px">6</tspan></text>
<text transform="translate(841.2 589) scale(1 1.04)" fill="#111" stroke="#111" style="font-size:21.5px">5-HT<tspan dy="3.9" style="font-size:14px">7</tspan></text>
<text transform="translate(841.2 632.4) scale(1 1.04)" fill="#111" stroke="#111" style="font-size:21.5px">5-HT<tspan dy="3.9" style="font-size:14px">3A</tspan></text>
<text transform="translate(841.2 664.6) scale(1 1.04)" fill="#111" stroke="#111" style="font-size:21.5px">5-HT<tspan dy="3.9" style="font-size:14px">3B</tspan></text>
<text transform="translate(841.2 695.9) scale(1 1.04)" fill="#111" stroke="#111" style="font-size:21.5px">5-HT<tspan dy="3.9" style="font-size:14px">3C,D,E</tspan></text>
</g></svg></body></html>
